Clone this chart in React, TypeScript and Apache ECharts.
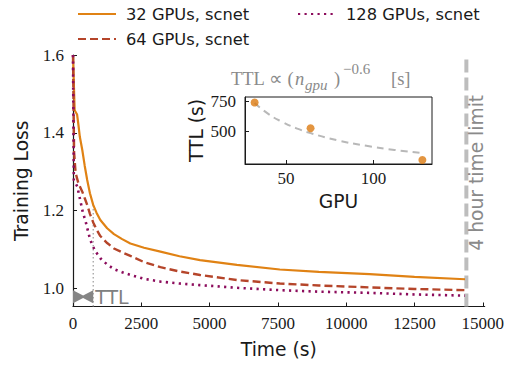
import React, { useEffect, useRef } from "react";
import * as echarts from "echarts";

// ---- data ----
const time32 = [0, 60, 150, 200, 250, 340, 430, 520, 620, 740, 860, 1000, 1250, 1500, 1800, 2100, 2600, 3200, 3900, 4650, 6000, 7570, 9000, 10860, 12500, 14350];
const loss32 = [1.6, 1.458, 1.447, 1.42, 1.39, 1.356, 1.315, 1.279, 1.245, 1.215, 1.195, 1.176, 1.155, 1.14, 1.127, 1.116, 1.105, 1.095, 1.083, 1.073, 1.061, 1.049, 1.043, 1.037, 1.03, 1.024];

const time64 = [0, 40, 95, 200, 340, 430, 520, 620, 740, 860, 1000, 1250, 1500, 1800, 2100, 2600, 3200, 3900, 4650, 6000, 7570, 9000, 10860, 12500, 14350];
const loss64 = [1.6, 1.35, 1.297, 1.27, 1.249, 1.232, 1.215, 1.192, 1.17, 1.152, 1.135, 1.117, 1.103, 1.093, 1.084, 1.068, 1.055, 1.044, 1.035, 1.022, 1.013, 1.008, 1.003, 0.999, 0.996];

const time128 = [0, 30, 157, 278, 365, 450, 540, 632, 800, 1000, 1250, 1500, 1800, 2100, 2600, 3200, 3900, 4650, 6000, 7570, 9000, 10860, 12500, 14350];
const loss128 = [1.6, 1.279, 1.262, 1.223, 1.194, 1.176, 1.15, 1.125, 1.098, 1.078, 1.062, 1.05, 1.042, 1.035, 1.025, 1.018, 1.013, 1.009, 1.002, 0.996, 0.992, 0.989, 0.985, 0.982];

const seriesNames = ["32 GPUs, scnet", "64 GPUs, scnet", "128 GPUs, scnet"];

const gpuCounts = [32, 64, 128];
const ttlSeconds = [742, 528, 264];
const fitGpu = [32, 40, 48, 56, 64, 80, 96, 112, 128];
const fitTtl = [738, 645, 579, 527, 487, 426, 382, 348, 321];

const xTicks = [0, 2500, 5000, 7500, 10000, 12500, 15000];
const yTicks = [1.0, 1.2, 1.4, 1.6];
const insetXTicks = [50, 100];
const insetYTicks = [500, 750];

const timeLimit = 14400;
const ttlTime = 740;
const ttlLossTop = 1.215;
const ttlArrowLoss = 0.979;

const X_MIN = 0, X_MAX = 15070, Y_MIN = 0.954, Y_MAX = 1.6;

const zip = (a: number[], b: number[]) => a.map((v, i) => [v, b[i]]);

const SANS = "DejaVu Sans";
const SERIF = "Liberation Serif";
const INK = "#1a1a1a";

export default function App() {
  const ref = useRef<HTMLDivElement>(null);
  useEffect(() => {
    if (!ref.current) return;
    const chart = echarts.init(ref.current, null, { renderer: "svg" });
    const tickLabel = { fontFamily: SERIF, fontSize: 17, color: INK };
    const legendText = { fontFamily: SANS, fontSize: 16.3, color: INK, padding: [0, 0, 0, 5], lineHeight: 20 };
    const option: any = {
      animation: false,
      backgroundColor: "#fff",
      grid: [
        { left: 73, top: 55, width: 412, height: 251.5 },
        { left: 245, top: 97, width: 187, height: 67, show: true, borderColor: INK, borderWidth: 1, backgroundColor: "#fff", z: 5 },
      ],
      legend: [
        {
          data: seriesNames.slice(0, 2), orient: "vertical", left: 72, top: -1,
          itemWidth: 38, itemHeight: 14, itemGap: 5,
          itemStyle: { opacity: 0 },
          textStyle: legendText,
        },
        {
          data: seriesNames.slice(2), orient: "vertical", left: 292, top: -1,
          itemWidth: 38, itemHeight: 14,
          itemStyle: { opacity: 0 },
          textStyle: legendText,
        },
      ],
      xAxis: [
        {
          type: "value", gridIndex: 0, min: X_MIN, max: X_MAX,
          splitLine: { show: false },
          axisLine: { show: true, lineStyle: { color: INK, width: 1.2 } },
          axisTick: { show: true, inside: true, length: 4, customValues: xTicks, lineStyle: { color: INK } },
          axisLabel: { ...tickLabel, margin: 8, customValues: xTicks, formatter: (v: number) => String(v) },
          name: "Time (s)", nameLocation: "middle", nameGap: 33,
          nameTextStyle: { fontFamily: SANS, fontSize: 18.7, color: INK },
        },
        {
          type: "value", gridIndex: 1, min: 26.5, max: 133.5,
          splitLine: { show: false },
          axisLine: { show: true, lineStyle: { color: INK, width: 1 } },
          axisTick: { show: true, inside: true, length: 4, customValues: insetXTicks, lineStyle: { color: INK } },
          axisLabel: { ...tickLabel, margin: 6, customValues: insetXTicks },
          name: "GPU", nameLocation: "middle", nameGap: 28,
          nameTextStyle: { fontFamily: SANS, fontSize: 18.7, color: INK },
          z: 6,
        },
      ],
      yAxis: [
        {
          type: "value", gridIndex: 0, min: Y_MIN, max: Y_MAX,
          splitLine: { show: false },
          axisLine: { show: true, lineStyle: { color: INK, width: 1.2 } },
          axisTick: { show: true, inside: true, length: 4, customValues: yTicks, lineStyle: { color: INK } },
          axisLabel: { ...tickLabel, margin: 9, customValues: yTicks, formatter: (v: number) => v.toFixed(1) },
          name: "Training Loss", nameLocation: "middle", nameGap: 42,
          nameTextStyle: { fontFamily: SANS, fontSize: 18.7, color: INK },
        },
        {
          type: "value", gridIndex: 1, min: 231, max: 787,
          splitLine: { show: false },
          axisLine: { show: true, lineStyle: { color: INK, width: 1 } },
          axisTick: { show: true, inside: true, length: 4, customValues: insetYTicks, lineStyle: { color: INK } },
          axisLabel: { ...tickLabel, margin: 9, customValues: insetYTicks },
          name: "TTL (s)", nameLocation: "middle", nameGap: 39,
          nameTextStyle: { fontFamily: SANS, fontSize: 18.7, color: INK },
          z: 6,
        },
      ],
      series: [
        {
          name: seriesNames[0], type: "line", xAxisIndex: 0, yAxisIndex: 0,
          data: zip(time32, loss32), symbol: "none",
          color: "#e08214", lineStyle: { color: "#e08214", width: 2.2 }, z: 3,
        },
        {
          name: seriesNames[1], type: "line", xAxisIndex: 0, yAxisIndex: 0,
          data: zip(time64, loss64), symbol: "none",
          color: "#b5452a", lineStyle: { color: "#b5452a", width: 2.4, type: [8, 4] }, z: 3,
        },
        {
          name: seriesNames[2], type: "line", xAxisIndex: 0, yAxisIndex: 0,
          data: zip(time128, loss128), symbol: "none",
          color: "#8c0c5c", lineStyle: { color: "#8c0c5c", width: 2.6, type: [2.2, 4.3], cap: "butt" }, z: 3,
        },
        {
          name: "timeLimit", type: "line", xAxisIndex: 0, yAxisIndex: 0,
          data: [[timeLimit, Y_MIN], [timeLimit, Y_MAX]], symbol: "none", silent: true,
          lineStyle: { color: "#bdbdbd", width: 4, type: [13, 5] }, z: 2,
        },
        {
          name: "ttlLine", type: "line", xAxisIndex: 0, yAxisIndex: 0,
          data: [[ttlTime, ttlLossTop], [ttlTime, Y_MIN]], symbol: "none", silent: true,
          lineStyle: { color: "#9a9a9a", width: 1.2, type: [1.5, 2.5] }, z: 2,
        },
        {
          name: "fit", type: "line", xAxisIndex: 1, yAxisIndex: 1,
          data: zip(fitGpu, fitTtl), symbol: "none", smooth: true, silent: true,
          lineStyle: { color: "#b8b8b8", width: 2, type: [7, 5] }, z: 6,
        },
        {
          name: "ttl", type: "scatter", xAxisIndex: 1, yAxisIndex: 1,
          data: zip(gpuCounts, ttlSeconds), symbolSize: 8,
          itemStyle: { color: "#dc7a10" }, z: 7,
        },
      ],
    };
    chart.setOption(option);

    const p = (x: number, y: number) => chart.convertToPixel({ gridIndex: 0 }, [x, y]) as number[];
    const [x0, cy] = p(0, ttlArrowLoss);
    const [x1] = p(ttlTime, ttlArrowLoss);
    const xm = (x0 + x1) / 2;
    const [xl, yTop] = p(timeLimit, Y_MAX);
    const [, yBot] = p(timeLimit, Y_MIN);
    const gray = "#8a8a8a";
    const t = (text: string, x: number, y: number, size: number, italic = false) => ({
      type: "text", z: 10, x, y,
      style: { text, fontFamily: SERIF, fontSize: size, fontStyle: italic ? "italic" : "normal", fill: gray, align: "left", verticalAlign: "middle" },
    });
    chart.setOption({
      graphic: [
        {
          type: "polygon", z: 10,
          shape: { points: [[x0, cy - 6.5], [xm, cy - 1.2], [x1, cy - 6.5], [x1, cy + 6.5], [xm, cy + 1.2], [x0, cy + 6.5]] },
          style: { fill: "#858585" },
        },
        {
          type: "text", z: 10, x: x1 + 2, y: cy,
          style: { text: "TTL", fontFamily: SANS, fontSize: 19, fill: "#808080", align: "left", verticalAlign: "middle" },
        },
        {
          type: "text", z: 10, x: xl + 10, y: (yTop + yBot) / 2 - 8, rotation: Math.PI / 2,
          style: { text: "4 hour time limit", fontFamily: SANS, fontSize: 18.7, fill: gray, align: "center", verticalAlign: "middle" },
        },
        t("TTL ∝ (", 231, 79, 18.5),
        t("n", 295, 79, 18.5, true),
        t("gpu", 305, 85, 15, true),
        t(")", 334, 79, 18.5),
        t("−0.6", 343, 69, 15),
        t("[s]", 391, 79, 18.5),
      ],
    });
    return () => chart.dispose();
  }, []);
  return <div ref={ref} style={{ width: 507, height: 365, position: "absolute", left: 0, top: 0 }} />;
}
